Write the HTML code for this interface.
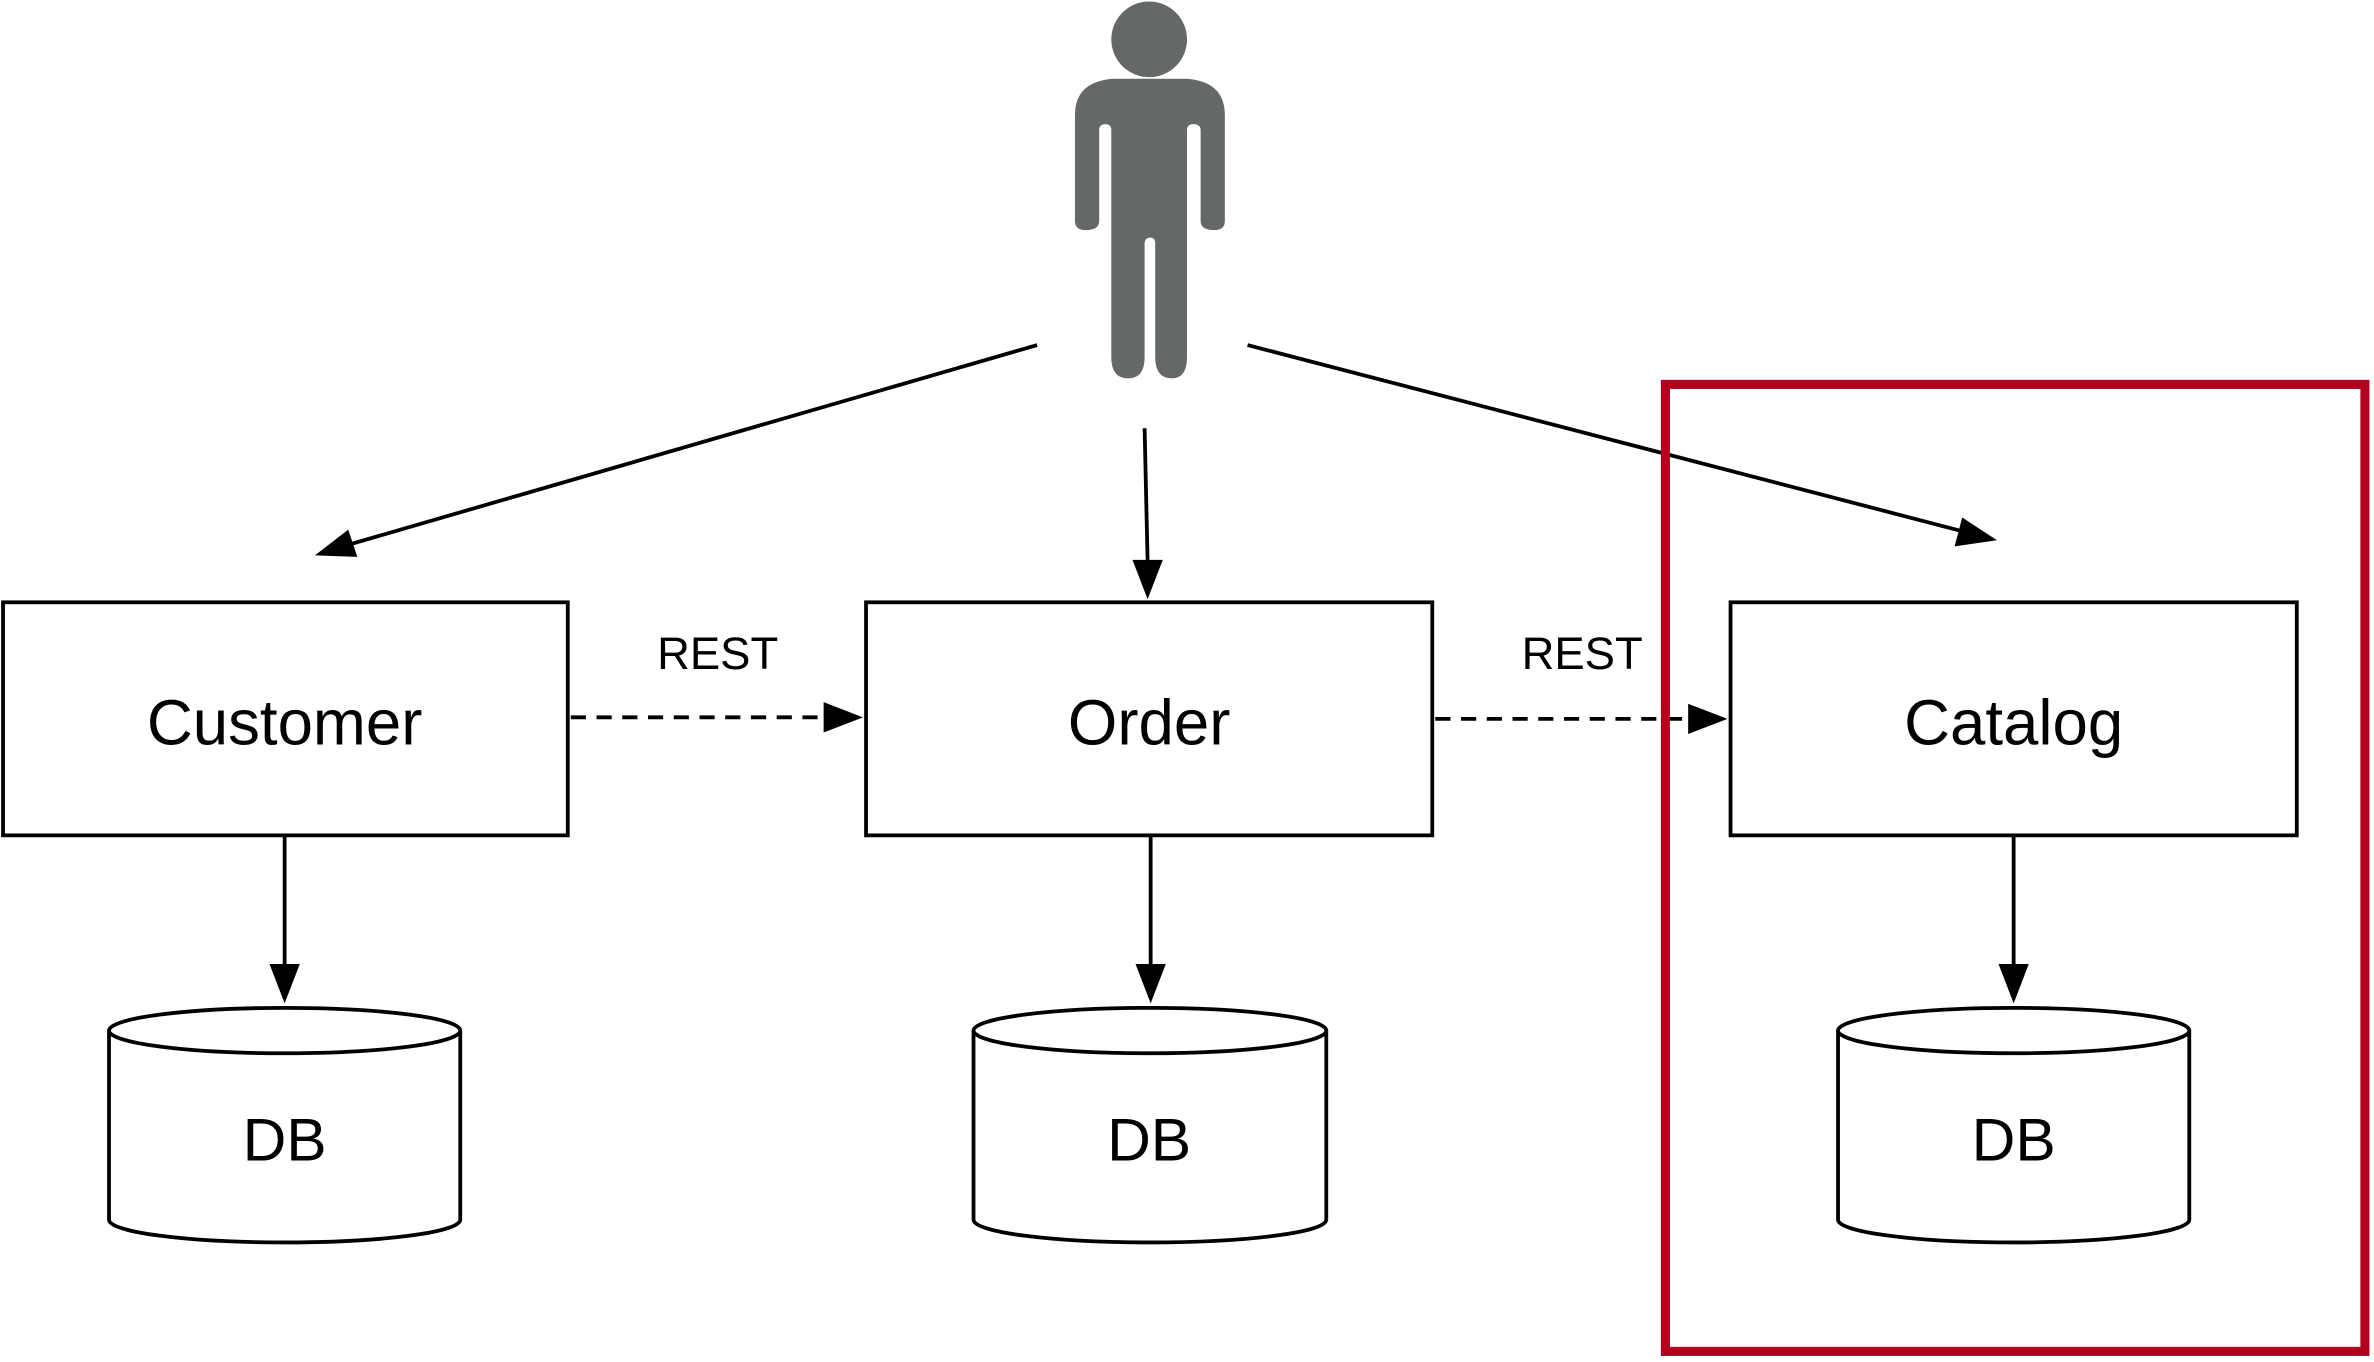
<!DOCTYPE html>
<html><head><style>html,body{margin:0;padding:0;background:#fff}svg{display:block}</style></head>
<body>
<svg width="2374" height="1362" viewBox="0 0 1568 900" preserveAspectRatio="none" xmlns="http://www.w3.org/2000/svg" font-family="Liberation Sans, sans-serif">
<defs>
<marker id="a" markerWidth="10" markerHeight="8" refX="10" refY="4" orient="auto" markerUnits="userSpaceOnUse" viewBox="0 0 10 8"><path d="M0,0 L10,4 L0,8 Z" fill="#000"/></marker>
</defs>
<g fill="#656868">
<circle cx="759" cy="26" r="25"/>
<path d="M735,52 H784 Q809,54 809,76 V146 Q809,152 802,152 Q793,152 793,146 V86 Q793,82 788,82 Q784,82 784,86 V236 Q784,250 774,250 Q763,250 763,236 V161 Q763,157 760,157 Q756,157 756,161 V236 Q756,250 745,250 Q734,250 734,236 V86 Q734,82 730,82 Q726,82 726,86 V146 Q726,152 717,152 Q710,152 710,146 V76 Q710,54 735,52 Z"/>
</g>
<g stroke="#000" stroke-width="2.5" fill="none">
<line x1="685" y1="228" x2="230" y2="360"/>
<path d="M208,367 L230,350 L236,368 Z" fill="#000" stroke="none"/>
<line x1="756" y1="283" x2="758" y2="372"/>
<path d="M758,396 L748,370 L768,370 Z" fill="#000" stroke="none"/>
<line x1="824" y1="228" x2="1296" y2="351"/>
<path d="M1319,357 L1291,361 L1296,342 Z" fill="#000" stroke="none"/>
<rect x="2" y="398" width="373" height="154"/>
<rect x="572" y="398" width="374" height="154"/>
<rect x="1143" y="398" width="374" height="154"/>
<line x1="377" y1="474" x2="548" y2="474" stroke-dasharray="10,7"/>
<path d="M570,474 L544,464 L544,484 Z" fill="#000" stroke="none"/>
<line x1="948" y1="475" x2="1118" y2="475" stroke-dasharray="10,7"/>
<path d="M1141,475 L1115,465 L1115,485 Z" fill="#000" stroke="none"/>
<line x1="188" y1="552" x2="188" y2="640"/>
<path d="M188,663 L178,637 L198,637 Z" fill="#000" stroke="none"/>
<line x1="760" y1="552" x2="760" y2="640"/>
<path d="M760,663 L750,637 L770,637 Z" fill="#000" stroke="none"/>
<line x1="1330" y1="552" x2="1330" y2="640"/>
<path d="M1330,663 L1320,637 L1340,637 Z" fill="#000" stroke="none"/>
</g>
<g stroke="#000" stroke-width="2.5" fill="#fff">
<path d="M72,681 V806 A116,15 0 0 0 304,806 V681"/>
<ellipse cx="188" cy="681" rx="116" ry="15"/>
<path d="M643,681 V806 A116.5,15 0 0 0 876,806 V681"/>
<ellipse cx="759.5" cy="681" rx="116.5" ry="15"/>
<path d="M1214,681 V806 A116,15 0 0 0 1446,806 V681"/>
<ellipse cx="1330" cy="681" rx="116" ry="15"/>
</g>
<g text-anchor="middle" fill="#000">
<text x="188" y="492" font-size="42">Customer</text>
<text x="759" y="492" font-size="42">Order</text>
<text x="1330" y="492" font-size="42">Catalog</text>
<text x="474" y="442" font-size="30">REST</text>
<text x="1045" y="442" font-size="30">REST</text>
<text x="188" y="767" font-size="40">DB</text>
<text x="759" y="767" font-size="40">DB</text>
<text x="1330" y="767" font-size="40">DB</text>
</g>
<rect x="1100" y="254" width="462" height="639" fill="none" stroke="#b0001e" stroke-width="6"/>
</svg>
</body></html>
